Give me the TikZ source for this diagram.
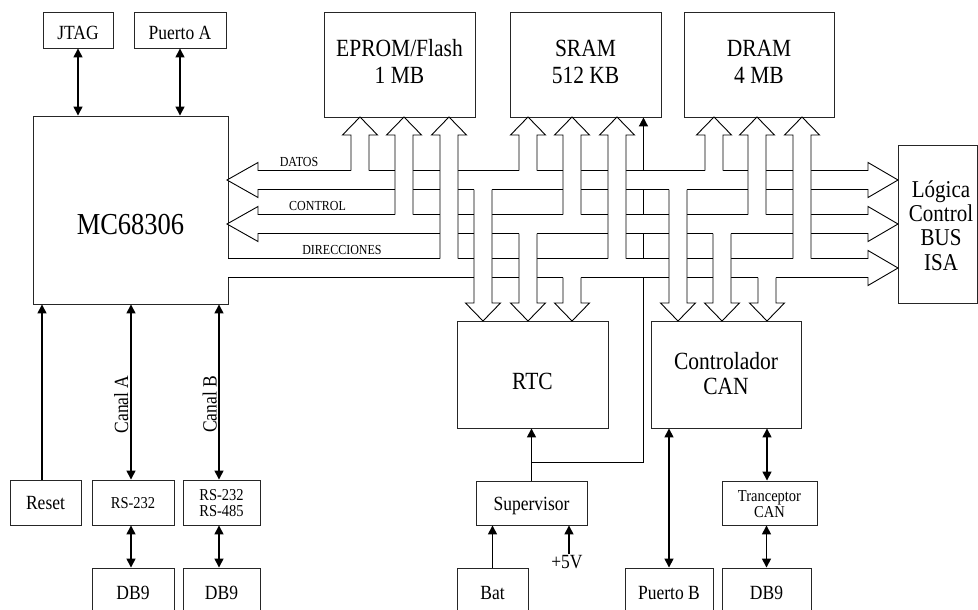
\documentclass[tikz,border=0pt]{standalone}
\usepackage{fontspec}
\setmainfont{Liberation Serif}
\usepackage{graphicx}
\usetikzlibrary{arrows.meta,calc}
\newcommand\tx[3]{\scalebox{1}[1.15]{\fontsize{#1}{#2}\selectfont\begin{tabular}{@{}c@{}}#3\end{tabular}}}
\newcommand\busup[3]{%
  \fill[white] ({#1-9},{#2+1.5}) rectangle ({#1+9},{#3+18});
  \filldraw[busline] ({#1-9},#2) -- ({#1-9},{#3+18}) -- ({#1-17.5},{#3+18}) -- (#1,#3) -- ({#1+17.5},{#3+18}) -- ({#1+9},{#3+18}) -- ({#1+9},#2);}
\newcommand\busdown[3]{%
  \fill[white] ({#1-9},{#2-1.5}) rectangle ({#1+9},{#3-18});
  \filldraw[busline] ({#1-9},#2) -- ({#1-9},{#3-18}) -- ({#1-17.5},{#3-18}) -- (#1,#3) -- ({#1+17.5},{#3-18}) -- ({#1+9},{#3-18}) -- ({#1+9},#2);}
\begin{document}
\begin{tikzpicture}[x=1pt,y=-1pt,
  box/.style={draw=black!85, line width=0.9pt, inner sep=0pt},
  lab/.style={inner sep=0pt},
  busline/.style={draw=black, fill=white, line width=0.9pt, line join=miter},
  conn/.style={line width=1.5pt, black},
  >={Triangle[length=9pt,width=9pt]}]
\useasboundingbox (0,0) rectangle (978,610);
% boxes
\node[box, minimum width=70pt, minimum height=36pt] (jtag) at (78,30) {};
\node[box, minimum width=92pt, minimum height=36pt] (pa) at (180,30) {};
\node[box, minimum width=195pt, minimum height=188pt] (mc) at (130.5,210) {};
\node[box, minimum width=151pt, minimum height=105pt] (eprom) at (399.5,64.5) {};
\node[box, minimum width=151pt, minimum height=105pt] (sram) at (585.5,64.5) {};
\node[box, minimum width=150pt, minimum height=105pt] (dram) at (759,64.5) {};
\node[box, minimum width=79pt, minimum height=158pt] (isa) at (937.5,224) {};
\node[box, minimum width=151pt, minimum height=107pt] (rtc) at (532.5,374.5) {};
\node[box, minimum width=150pt, minimum height=107pt] (can) at (726,374.5) {};
\node[box, minimum width=71pt, minimum height=45pt] (reset) at (45.5,502.5) {};
\node[box, minimum width=82pt, minimum height=45pt] (rs1) at (133,502.5) {};
\node[box, minimum width=77pt, minimum height=45pt] (rs2) at (221.5,502.5) {};
\node[box, minimum width=82pt, minimum height=47pt] (db1) at (133,591.5) {};
\node[box, minimum width=77pt, minimum height=47pt] (db2) at (221.5,591.5) {};
\node[box, minimum width=111pt, minimum height=44pt] (sup) at (531.5,503) {};
\node[box, minimum width=71pt, minimum height=47pt] (bat) at (492.5,591.5) {};
\node[box, minimum width=88pt, minimum height=47pt] (pb) at (669,591.5) {};
\node[box, minimum width=95pt, minimum height=44pt] (trc) at (769.5,503) {};
\node[box, minimum width=89pt, minimum height=47pt] (db3) at (766.5,591.5) {};
% texts
\node[lab] at (78,35) {\tx{17.5}{17.5}{JTAG}};
\node[lab] at (180,35) {\tx{17.5}{17.5}{Puerto A}};
\node[lab] at (130.5,228) {\tx{26.5}{26.5}{MC68306}};
\node[lab] at (399.5,64.3) {\tx{21.5}{23.5}{EPROM/Flash\\1 MB}};
\node[lab] at (585.5,64.3) {\tx{21.5}{23.5}{SRAM\\512 KB}};
\node[lab] at (759,64.3) {\tx{21.5}{23.5}{DRAM\\4 MB}};
\node[lab] at (941,229) {\tx{21}{21}{Lógica\\Control\\BUS\\ISA}};
\node[lab] at (532.5,384) {\tx{21.5}{22}{RTC}};
\node[lab] at (726,377) {\tx{21.5}{22}{Controlador\\CAN}};
\node[lab] at (45.5,505.6) {\tx{17.5}{17.5}{Reset}};
\node[lab] at (133,504.8) {\tx{14.5}{14.5}{RS-232}};
\node[lab] at (221.5,505.3) {\tx{14.5}{14}{RS-232\\RS-485}};
\node[lab] at (133,595) {\tx{17.5}{17.5}{DB9}};
\node[lab] at (221.5,595) {\tx{17.5}{17.5}{DB9}};
\node[lab] at (531.5,506) {\tx{17.5}{17.5}{Supervisor}};
\node[lab] at (492.5,595) {\tx{17.5}{17.5}{Bat}};
\node[lab] at (669,595) {\tx{17.5}{17.5}{Puerto B}};
\node[lab] at (769.5,506.3) {\tx{14.5}{14}{Tranceptor\\CAN}};
\node[lab] at (766.5,595) {\tx{17.5}{17.5}{DB9}};
\node[lab] (v5) at (567,564) {\tx{17.5}{17.5}{+5V}};
\node[lab, rotate=90] at (124,404.5) {\tx{17.5}{17.5}{Canal A}};
\node[lab, rotate=90] at (212.5,404.5) {\tx{17.5}{17.5}{Canal B}};
% thin line supervisor -> SRAM (under buses)
\coordinate (j) at ($(sup.north)+(0,-18)$);
\coordinate (sv) at ($(sram.south east)+(-18,0)$);
\draw[conn,->] (j) -| (sv);
% horizontal buses
\filldraw[busline] (227,180) -- (258,162.5) -- (258,170.5) -- (868,170.5) -- (868,162.5) -- (898,180) -- (868,197.5) -- (868,189.5) -- (258,189.5) -- (258,197.5) -- cycle;
\filldraw[busline] (227,224) -- (258,206.5) -- (258,214.5) -- (868,214.5) -- (868,206.5) -- (898,224) -- (868,241.5) -- (868,233.5) -- (258,233.5) -- (258,241.5) -- cycle;
\filldraw[busline] (228,258.5) -- (868,258.5) -- (868,250.5) -- (898,268) -- (868,285.5) -- (868,277.5) -- (228,277.5);
\node[lab] at (299,163.8) {\tx{12}{12}{DATOS}};
\node[lab] at (317.5,208) {\tx{12}{12}{CONTROL}};
\node[lab] at (342,252) {\tx{12}{12}{DIRECCIONES}};
% vertical buses to memories
\busup{360}{170.5}{117}\busup{404}{214.5}{117}\busup{449}{258.5}{117}
\busup{528}{170.5}{117}\busup{572}{214.5}{117}\busup{617}{258.5}{117}
\busup{714}{170.5}{117}\busup{757}{214.5}{117}\busup{802}{258.5}{117}
% vertical buses to RTC and CAN
\busdown{483}{189.5}{321}\busdown{528}{233.5}{321}\busdown{572}{277.5}{321}
\busdown{678}{189.5}{321}\busdown{722}{233.5}{321}\busdown{767}{277.5}{321}
% connectors
\draw[conn,<->] (jtag.south) -- (jtag.south |- mc.north);
\draw[conn,<->] (pa.south) -- (pa.south |- mc.north);
\draw[conn,->] ([xshift=-3.5pt]reset.north) -- ([xshift=-3.5pt]reset.north |- mc.south);
\draw[conn,<->] ([xshift=-2pt]rs1.north) -- ([xshift=-2pt]rs1.north |- mc.south);
\draw[conn,<->] ([xshift=-2.5pt]rs2.north) -- ([xshift=-2.5pt]rs2.north |- mc.south);
\draw[conn,<->] ([xshift=-2pt]rs1.south) -- ([xshift=-2pt]db1.north);
\draw[conn,<->] ([xshift=-2.5pt]rs2.south) -- ([xshift=-2.5pt]db2.north);
\draw[conn,->] (sup.north) -- (sup.north |- rtc.south);
\draw[conn,->] (bat.north) -- (bat.north |- sup.south);
\draw[conn,->] ([xshift=2pt]v5.north) -- ([xshift=2pt]v5.north |- sup.south);
\draw[conn,<->] (pb.north) -- (pb.north |- can.south);
\draw[conn,<->] ([xshift=-2.5pt]trc.north) -- ([xshift=-2.5pt]trc.north |- can.south);
\draw[conn,<->] (db3.north) -- (db3.north |- trc.south);
\end{tikzpicture}
\end{document}
